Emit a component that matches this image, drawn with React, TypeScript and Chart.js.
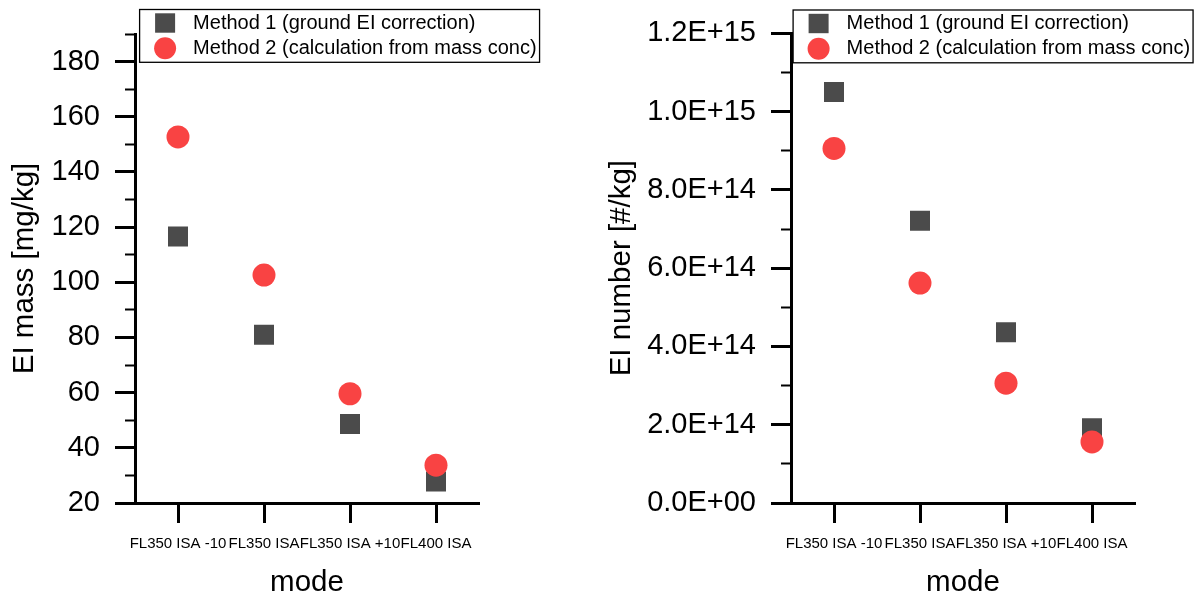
import React, { useEffect, useRef } from 'react';
import { Chart, registerables } from 'chart.js';

Chart.register(...registerables);

const FONT = '"Liberation Sans", Arial, sans-serif';

// ---- data ----
const modes = ['FL350 ISA -10', 'FL350 ISA', 'FL350 ISA +10', 'FL400 ISA'];
const seriesLabels = ['Method 1 (ground EI correction)', 'Method 2 (calculation from mass conc)'];

const massMethod1 = [116.6, 81.0, 48.6, 27.8];
const massMethod2 = [152.7, 102.6, 59.6, 33.7];

const numberMethod1 = [1.05e15, 7.21e14, 4.36e14, 1.91e14];
const numberMethod2 = [9.06e14, 5.62e14, 3.06e14, 1.56e14];

const massTicks = [20, 30, 40, 50, 60, 70, 80, 90, 100, 110, 120, 130, 140, 150, 160, 170, 180, 190];
const massTickLabels = ['20', '', '40', '', '60', '', '80', '', '100', '', '120', '', '140', '', '160', '', '180', ''];

const numberTicks = [0, 1e14, 2e14, 3e14, 4e14, 5e14, 6e14, 7e14, 8e14, 9e14, 1e15, 1.1e15, 1.2e15];
const numberTickLabels = ['0.0E+00', '', '2.0E+14', '', '4.0E+14', '', '6.0E+14', '', '8.0E+14', '', '1.0E+15', '', '1.2E+15'];

const SQUARE_COLOR = '#4b4b4b';
const CIRCLE_COLOR = '#f94343';

const boxLegend = {
  id: 'boxLegend',
  afterDraw(chart: any, _args: any, opts: any) {
    const ctx = chart.ctx as CanvasRenderingContext2D;
    const x = opts.x;
    const y = opts.y;
    ctx.save();
    ctx.font = `20px ${FONT}`;
    const texts = chart.data.datasets.map((d: any) => d.label as string);
    const textX = x + 53.5;
    const maxW = Math.max(...texts.map((t: string) => ctx.measureText(t).width));
    const w = textX + maxW + 3 - x;
    const h = 52.8;
    ctx.lineWidth = 1.3;
    ctx.strokeStyle = '#000';
    ctx.strokeRect(x, y, w, h);
    chart.data.datasets.forEach((d: any, i: number) => {
      const cy = y + 13.5 + i * 25.2;
      const cx = x + 25.5;
      ctx.fillStyle = d.backgroundColor;
      if (d.pointStyle === 'rect') {
        ctx.fillRect(cx - 10, cy - 9.7, 20, 19.4);
      } else {
        ctx.beginPath();
        ctx.arc(cx, cy, 11, 0, Math.PI * 2);
        ctx.fill();
      }
      ctx.fillStyle = '#000';
      ctx.textBaseline = 'middle';
      ctx.textAlign = 'left';
      ctx.fillText(d.label, textX, cy);
    });
    ctx.restore();
  },
};

function makeConfig(opts: {
  m1: number[];
  m2: number[];
  min: number;
  max: number;
  tickValues: number[];
  tickLabels: string[];
  yTitle: string;
  yWidth: number;
  yTitlePad: number;
  padRight: number;
  padTop: number;
  legendX: number;
  legendY: number;
}) {
  const isMajor = (i: number) => opts.tickLabels[i] !== '' && opts.tickLabels[i] !== undefined;
  return {
    type: 'line',
    data: {
      labels: modes,
      datasets: [
        {
          label: seriesLabels[0],
          data: opts.m1,
          showLine: false,
          pointStyle: 'rect',
          pointRadius: 14.14,
          pointHoverRadius: 14.14,
          backgroundColor: SQUARE_COLOR,
          borderColor: SQUARE_COLOR,
          pointBorderWidth: 0,
          order: 1,
        },
        {
          label: seriesLabels[1],
          data: opts.m2,
          showLine: false,
          pointStyle: 'circle',
          pointRadius: 11.5,
          pointHoverRadius: 11.5,
          backgroundColor: CIRCLE_COLOR,
          borderColor: CIRCLE_COLOR,
          pointBorderWidth: 0,
          order: 0,
        },
      ],
    },
    options: {
      animation: false,
      responsive: false,
      maintainAspectRatio: false,
      events: [],
      layout: { padding: { left: 0, right: opts.padRight, top: opts.padTop, bottom: 0 } },
      plugins: {
        legend: { display: false },
        tooltip: { enabled: false },
        boxLegend: { x: opts.legendX, y: opts.legendY },
      },
      scales: {
        x: {
          type: 'category',
          offset: true,
          grid: {
            display: true,
            drawOnChartArea: false,
            drawTicks: true,
            tickLength: 20,
            tickWidth: 3,
            tickColor: '#000',
            offset: false,
          },
          border: { display: true, color: '#000', width: 3 },
          ticks: {
            autoSkip: false,
            maxRotation: 0,
            minRotation: 0,
            padding: 13.5,
            color: '#000',
            font: { family: FONT, size: 15, lineHeight: 1 },
          },
          title: {
            display: true,
            text: 'mode',
            color: '#000',
            font: { family: FONT, size: 29.5, lineHeight: 1 },
            padding: { top: 0, bottom: 0 },
          },
          afterFit: (s: any) => {
            s.height = 95;
          },
        },
        y: {
          type: 'linear',
          min: opts.min,
          max: opts.max,
          afterBuildTicks: (s: any) => {
            s.ticks = opts.tickValues.map((v) => ({ value: v }));
          },
          ticks: {
            autoSkip: false,
            callback: (_v: any, i: number) => opts.tickLabels[i],
            padding: 15,
            color: '#000',
            font: { family: FONT, size: 29 },
          },
          grid: {
            display: true,
            drawOnChartArea: false,
            drawTicks: true,
            tickLength: 20,
            tickColor: '#000',
            tickWidth: (c: any) => (isMajor(c.index) ? 3 : 2),
            tickBorderDash: (c: any) => (isMajor(c.index) ? [] : [10, 10]),
            tickBorderDashOffset: (c: any) => (isMajor(c.index) ? 0 : 10),
          },
          border: { display: true, color: '#000', width: 3 },
          title: {
            display: true,
            text: opts.yTitle,
            color: '#000',
            font: { family: FONT, size: 29.5, lineHeight: 1 },
            padding: { top: opts.yTitlePad, bottom: 0 },
          },
          afterFit: (s: any) => {
            s.width = opts.yWidth;
          },
        },
      },
    },
    plugins: [boxLegend],
  };
}

function ChartCanvas({ config, width, height }: { config: any; width: number; height: number }) {
  const ref = useRef<HTMLCanvasElement | null>(null);
  useEffect(() => {
    if (!ref.current) return;
    const chart = new Chart(ref.current, config);
    return () => chart.destroy();
  }, [config]);
  return <canvas ref={ref} width={width} height={height} style={{ display: 'block', width, height }} />;
}

const leftConfig = makeConfig({
  m1: massMethod1,
  m2: massMethod2,
  min: 20,
  max: 190,
  tickValues: massTicks,
  tickLabels: massTickLabels,
  yTitle: 'EI mass [mg/kg]',
  yWidth: 135,
  yTitlePad: 10.25,
  padRight: 121,
  padTop: 34,
  legendX: 139.6,
  legendY: 9.5,
});

const rightConfig = makeConfig({
  m1: numberMethod1,
  m2: numberMethod2,
  min: 0,
  max: 1.2e15,
  tickValues: numberTicks,
  tickLabels: numberTickLabels,
  yTitle: 'EI number [#/kg]',
  yWidth: 191,
  yTitlePad: 7.25,
  padRight: 64,
  padTop: 33.3,
  legendX: 193.1,
  legendY: 10,
});

export default function App() {
  return (
    <div
      style={{
        position: 'fixed',
        left: 0,
        top: 0,
        width: 1199,
        height: 598,
        background: '#fff',
        overflow: 'hidden',
      }}
    >
      <div style={{ position: 'absolute', left: 0, top: 0 }}>
        <ChartCanvas config={leftConfig} width={600} height={598} />
      </div>
      <div style={{ position: 'absolute', left: 600, top: 0 }}>
        <ChartCanvas config={rightConfig} width={599} height={598} />
      </div>
    </div>
  );
}
